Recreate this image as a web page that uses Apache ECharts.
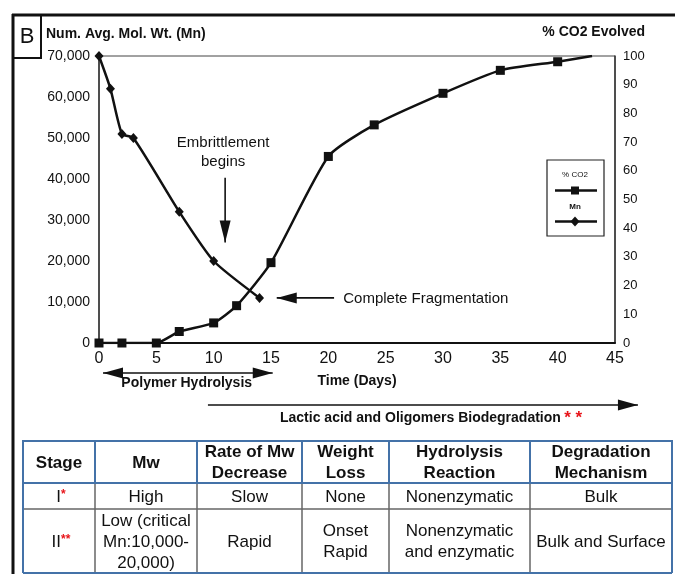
<!DOCTYPE html>
<html>
<head>
<meta charset="utf-8">
<script src="https://cdn.jsdelivr.net/npm/echarts@6/dist/echarts.min.js"></script>
<style>
  html, body { margin: 0; padding: 0; background: #fff; }
  #chart { width: 675px; height: 574px; }
</style>
</head>
<body>
<div id="chart"></div>
<script>
// Number-average molecular weight (Mn) over time
const mnDays   = [0, 1, 2, 3, 7, 10, 14];
const mnValues = [70000, 62000, 51000, 50000, 32000, 20000, 11000];

// Cumulative CO2 evolved (%) over time; the last point has no marker
const co2Days   = [0, 2, 5, 7, 10, 12, 15, 20, 24, 30, 35, 40, 43];
const co2Values = [0, 0, 0, 4, 7, 13, 28, 65, 76, 87, 95, 98, 100];
const co2Marker = [1, 1, 1, 1, 1, 1, 1, 1, 1, 1, 1, 1, 0];

// Axis ranges
const dayAxis = { min: 0, max: 45, interval: 5 };
const mnAxis  = { min: 0, max: 70000, interval: 10000 };
const co2Axis = { min: 0, max: 100, interval: 10 };

// Degradation stages table
const tableHeader = ['Stage', 'Mw', 'Rate of Mw\nDecrease', 'Weight\nLoss', 'Hydrolysis\nReaction', 'Degradation\nMechanism'];
const stageNames  = ['I', 'II'];
const stageMarks  = ['*', '**'];
const rowStage1   = ['High', 'Slow', 'None', 'Nonenzymatic', 'Bulk'];
const rowStage2   = ['Low (critical\nMn:10,000-\n20,000)', 'Rapid', 'Onset\nRapid', 'Nonenzymatic\nand enzymatic', 'Bulk and Surface'];

const FONT = "'Liberation Sans', Arial, Helvetica, sans-serif";
const INK = '#111';

const chart = echarts.init(document.getElementById('chart'));

const fmtThousands = v => v === 0 ? '0' : String(v).replace(/\B(?=(\d{3})+(?!\d))/g, ',');

chart.setOption({
  animation: false,
  backgroundColor: '#fff',
  grid: {
    left: 99, right: 60, top: 56, bottom: 231,
    show: true, borderColor: '#444', borderWidth: 1
  },
  xAxis: {
    type: 'value',
    min: dayAxis.min, max: dayAxis.max, interval: dayAxis.interval,
    name: 'Time (Days)',
    nameLocation: 'middle',
    nameGap: 31,
    nameTextStyle: { fontFamily: FONT, fontSize: 14, fontWeight: 'bold', color: INK },
    axisLine: { lineStyle: { color: '#111', width: 2 } },
    axisTick: { show: false },
    splitLine: { show: false },
    axisLabel: { fontFamily: FONT, fontSize: 16, color: INK, margin: 8 }
  },
  yAxis: [
    {
      type: 'value',
      min: mnAxis.min, max: mnAxis.max, interval: mnAxis.interval,
      axisLine: { show: true, lineStyle: { color: '#333', width: 1.5 } },
      axisTick: { show: false },
      splitLine: { show: false },
      axisLabel: { fontFamily: FONT, fontSize: 14, color: INK, margin: 9, formatter: fmtThousands }
    },
    {
      type: 'value',
      position: 'right',
      min: co2Axis.min, max: co2Axis.max, interval: co2Axis.interval,
      axisLine: { show: true, lineStyle: { color: '#333', width: 1.5 } },
      axisTick: { show: false },
      splitLine: { show: false },
      axisLabel: { fontFamily: FONT, fontSize: 13, color: INK, margin: 8 }
    }
  ],
  series: [
    {
      name: 'Mn',
      type: 'line',
      yAxisIndex: 0,
      smooth: 0.2,
      symbol: 'diamond',
      symbolSize: [9, 10],
      lineStyle: { color: '#111', width: 2.5 },
      itemStyle: { color: '#111' },
      data: mnDays.map((d, i) => [d, mnValues[i]])
    },
    {
      name: '% CO2',
      type: 'line',
      yAxisIndex: 1,
      smooth: 0.2,
      symbol: 'rect',
      symbolSize: 9,
      lineStyle: { color: '#111', width: 2.5 },
      itemStyle: { color: '#111' },
      data: co2Days.map((d, i) => co2Marker[i]
        ? [d, co2Values[i]]
        : { value: [d, co2Values[i]], symbol: 'none' })
    }
  ]
});

// pixel helpers bound to the chart's own scales
const px = d => chart.convertToPixel({ xAxisIndex: 0 }, d);
const py = v => chart.convertToPixel({ yAxisIndex: 0 }, v);
const axisBottom = py(0);

function head(tx, ty, dx, dy, len, half) {
  const n = Math.hypot(dx, dy), ux = dx / n, uy = dy / n;
  const bx = tx - ux * len, by = ty - uy * len;
  return {
    type: 'polygon',
    shape: { points: [[tx, ty], [bx - uy * half, by + ux * half], [bx + uy * half, by - ux * half]] },
    style: { fill: '#111' }
  };
}
function arrow(x1, y1, x2, y2, both, len = 18, half = 5) {
  const els = [
    { type: 'line', shape: { x1, y1, x2, y2 }, style: { stroke: '#111', lineWidth: 1.6 } },
    head(x2, y2, x2 - x1, y2 - y1, len, half)
  ];
  if (both) els.push(head(x1, y1, x1 - x2, y1 - y2, len, half));
  return els;
}
function text(x, y, str, opts) {
  return {
    type: 'text',
    style: Object.assign({ x, y, text: str, fill: INK, font: `15px ${FONT}`, align: 'center', verticalAlign: 'middle' }, opts || {})
  };
}

const g = [];

// outer frame and panel letter
g.push({ type: 'line', shape: { x1: 12, y1: 15, x2: 675, y2: 15 }, style: { stroke: '#111', lineWidth: 3 } });
g.push({ type: 'line', shape: { x1: 13, y1: 14, x2: 13, y2: 574 }, style: { stroke: '#111', lineWidth: 3 } });
g.push({ type: 'rect', shape: { x: 13, y: 15, width: 28, height: 43 }, style: { fill: 'none', stroke: '#111', lineWidth: 2 } });
g.push(text(27, 37, 'B', { font: `22px ${FONT}` }));

// axis titles
g.push(text(46, 34, 'Num. Avg. Mol. Wt. (Mn)', { font: `bold 14px ${FONT}`, align: 'left' }));
g.push(text(645, 32, '% CO2 Evolved', { font: `bold 14px ${FONT}`, align: 'right' }));

// embrittlement marker
const ex = px(11);
g.push(text(ex - 2, py(48800), 'Embrittlement', { font: `15px ${FONT}` }));
g.push(text(ex - 2, py(44300), 'begins', { font: `15px ${FONT}` }));
g.push(...arrow(ex, py(40300), ex, py(24500), false, 22, 5.5));

// complete fragmentation marker, pointing at the last Mn reading
const fy = py(mnValues[mnValues.length - 1]);
g.push(...arrow(px(20.5), fy, px(15.5), fy, false, 20, 5.5));
g.push(text(px(21.3), fy + 1, 'Complete Fragmentation', { align: 'left' }));

// stage spans below the time axis
const hy = axisBottom + 30;
g.push(...arrow(px(0.35), hy, px(15.15), hy, true, 20, 5.5));
g.push(text(px(7.65), hy + 10, 'Polymer Hydrolysis', { font: `bold 14px ${FONT}` }));

const ly = axisBottom + 62;
g.push(...arrow(px(9.5), ly, px(47.0), ly, false, 20, 5.5));
g.push({
  type: 'text',
  style: {
    x: 280, y: ly + 13, align: 'left', verticalAlign: 'middle',
    text: '{t|Lactic acid and Oligomers Biodegradation} {s|* *}',
    rich: {
      t: { font: `bold 14px ${FONT}`, fill: INK },
      s: { font: `bold 17px ${FONT}`, fill: '#e8141a' }
    }
  }
});

// legend box
g.push({ type: 'rect', shape: { x: 547, y: 160, width: 57, height: 76 }, style: { fill: '#fff', stroke: '#222', lineWidth: 1.2 } });
g.push(text(575, 175, '% CO2', { font: `8px ${FONT}` }));
g.push({ type: 'line', shape: { x1: 555, y1: 190.5, x2: 597, y2: 190.5 }, style: { stroke: '#111', lineWidth: 2.5 } });
g.push({ type: 'rect', shape: { x: 571, y: 186.5, width: 8, height: 8 }, style: { fill: '#111' } });
g.push(text(575, 207, 'Mn', { font: `bold 8px ${FONT}` }));
g.push({ type: 'line', shape: { x1: 555, y1: 221.5, x2: 597, y2: 221.5 }, style: { stroke: '#111', lineWidth: 2.5 } });
g.push({ type: 'polygon', shape: { points: [[575, 216.5], [579.5, 221.5], [575, 226.5], [570.5, 221.5]] }, style: { fill: '#111' } });

// stages table
const colX = [23, 95, 197, 302, 389, 530, 672];
const rowY = [441, 483, 509, 573];
const BLUE = '#4472a8', GREY = '#666';
const seg = (x1, y1, x2, y2, stroke, w) => ({ type: 'line', shape: { x1, y1, x2, y2 }, style: { stroke, lineWidth: w } });

for (let c = 1; c < colX.length - 1; c++) g.push(seg(colX[c], rowY[1], colX[c], rowY[3], GREY, 1.5));
g.push(seg(colX[0], rowY[2], colX[6], rowY[2], GREY, 1.5));
for (let c = 1; c < colX.length - 1; c++) g.push(seg(colX[c], rowY[0], colX[c], rowY[1], BLUE, 2));
g.push({ type: 'rect', shape: { x: colX[0], y: rowY[0], width: colX[6] - colX[0], height: rowY[1] - rowY[0] }, style: { fill: 'none', stroke: BLUE, lineWidth: 2 } });
g.push(seg(colX[0], rowY[1], colX[0], rowY[3], BLUE, 2));
g.push(seg(colX[6], rowY[1], colX[6], rowY[3], BLUE, 2));
g.push(seg(colX[0], rowY[3], colX[6], rowY[3], BLUE, 2));

const cellFont = `17px ${FONT}`;
const mid = c => (colX[c] + colX[c + 1]) / 2;
tableHeader.forEach((h, c) => g.push(text(mid(c), (rowY[0] + rowY[1]) / 2 + 1, h, { font: `bold ${cellFont}`, lineHeight: 21 })));
[rowStage1, rowStage2].forEach((row, r) => {
  const cy = (rowY[r + 1] + rowY[r + 2]) / 2 + 1;
  g.push({
    type: 'text',
    style: {
      x: mid(0) + 2, y: cy, align: 'center', verticalAlign: 'middle',
      text: `{n|${stageNames[r]}}{s|${stageMarks[r]}}`,
      rich: { n: { font: cellFont, fill: INK }, s: { font: `bold 12px ${FONT}`, fill: '#e8141a', verticalAlign: 'top' } }
    }
  });
  row.forEach((v, i) => g.push(text(mid(i + 1), cy, v, { font: cellFont, lineHeight: 21 })));
});

chart.setOption({ graphic: { elements: g } });
</script>
</body>
</html>
